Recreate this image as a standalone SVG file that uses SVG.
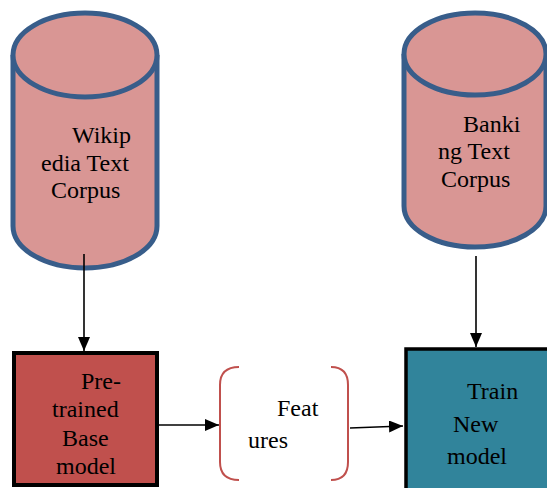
<svg xmlns="http://www.w3.org/2000/svg" width="547" height="488" viewBox="0 0 547 488">
<style>
.cyl{fill:#D99694;stroke:#385D8A;stroke-width:5}
text{font-family:'Liberation Serif','Times New Roman',serif;font-size:24px;fill:#000}
.c{stroke:#000;stroke-width:1.6;fill:none}
.br{fill:none;stroke:#C0504D;stroke-width:2}
</style>
<defs>
<marker id="ah" markerWidth="14" markerHeight="12" refX="14" refY="6" orient="auto" markerUnits="userSpaceOnUse">
<path d="M0,0 L14,6 L0,12 Z" fill="#000"/>
</marker>
</defs>
<rect width="547" height="488" fill="#fff"/>
<g id="wiki">
<path class="cyl" d="M13,55 L13,226 A72,42 0 0 0 157,226 L157,55"/>
<ellipse class="cyl" cx="85" cy="55" rx="72" ry="42"/>
<text><tspan x="72" y="143">Wikip</tspan><tspan x="41" y="171">edia Text</tspan><tspan x="51" y="198">Corpus</tspan></text>
</g>
<g id="bank">
<path class="cyl" d="M404,54 L404,206 A71,41 0 0 0 546,206 L546,54"/>
<ellipse class="cyl" cx="475" cy="54" rx="71" ry="41"/>
<text><tspan x="463" y="132">Banki</tspan><tspan x="438" y="159">ng Text</tspan><tspan x="441" y="187">Corpus</tspan></text>
</g>
<g id="pretrained">
<rect x="14" y="353" width="143" height="132" fill="#C0504D" stroke="#000" stroke-width="4"/>
<text><tspan x="81" y="389">Pre-</tspan><tspan x="52" y="417">trained</tspan><tspan x="62" y="446">Base</tspan><tspan x="56" y="474">model</tspan></text>
</g>
<g id="features">
<path class="br" d="M239,367 Q220,367 220,385 L220,462 Q220,480 239,480"/>
<path class="br" d="M331,367 Q348,367 348,385 L348,462 Q348,480 331,480"/>
<text><tspan x="277" y="416">Feat</tspan><tspan x="248" y="448">ures</tspan></text>
</g>
<g id="train">
<rect x="406" y="349" width="143" height="142" fill="#31849B" stroke="#000" stroke-width="3.5"/>
<text><tspan x="467" y="399">Train</tspan><tspan x="453" y="432">New</tspan><tspan x="447" y="464">model</tspan></text>
</g>
<g id="connectors">
<line class="c" x1="84" y1="254" x2="84" y2="351" marker-end="url(#ah)"/>
<line class="c" x1="476" y1="256" x2="476" y2="347" marker-end="url(#ah)"/>
<line class="c" x1="158" y1="425" x2="219" y2="425" marker-end="url(#ah)"/>
<line class="c" x1="350" y1="428" x2="403" y2="426" marker-end="url(#ah)"/>
</g>
</svg>
